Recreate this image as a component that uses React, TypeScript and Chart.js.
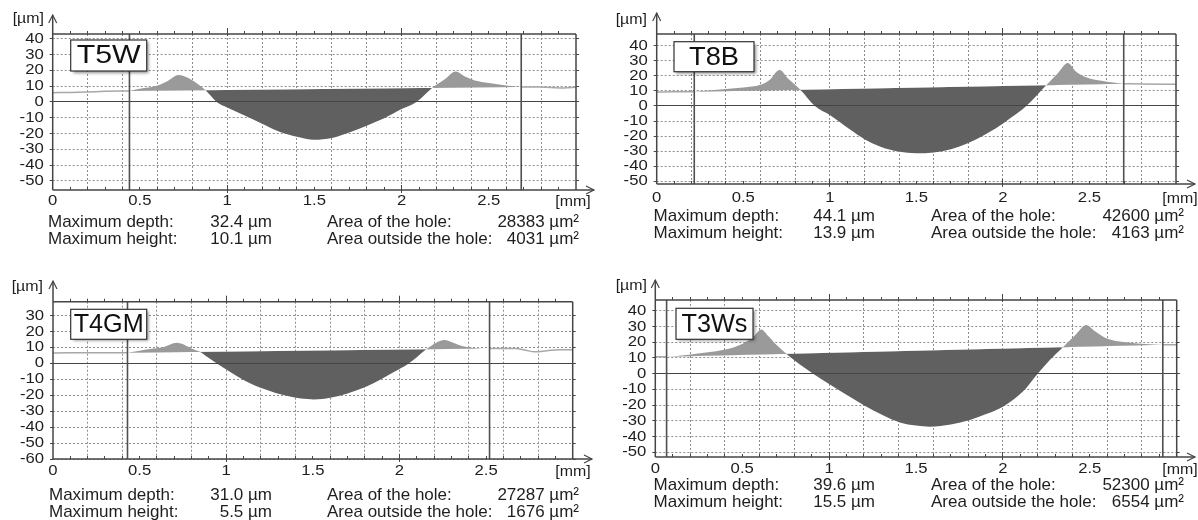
import React, { useEffect, useRef } from "react";
import { Chart, registerables } from "chart.js";

Chart.register(...registerables);

// ---------------- data ----------------
const NAMES = ["T5W", "T8B", "T4GM", "T3Ws"];

// T5W profile (x in mm, y in µm)
const T5W_X = [0, 0.1, 0.2, 0.3, 0.44, 0.5, 0.6, 0.66, 0.72, 0.78, 0.83, 0.875, 0.94, 1.0, 1.1, 1.2, 1.3, 1.4, 1.5, 1.6, 1.7, 1.8, 1.9, 2.0, 2.085, 2.175, 2.25, 2.31, 2.36, 2.42, 2.5, 2.6, 2.686, 2.8, 2.93, 3.0];
const T5W_Y = [5.9, 6.0, 6.3, 6.7, 7.0, 8.3, 10.4, 13.3, 17.0, 15.0, 11.5, 7.5, 0, -3.5, -8.6, -13.8, -18.8, -22.0, -23.9, -22.8, -19.3, -15.0, -10.3, -4.5, 0, 8.9, 14.5, 19.2, 16.3, 13.6, 12.0, 10.4, 9.5, 9.4, 8.9, 9.3];
const T5W_MARKERS = [0.44, 2.686];
const T5W_REF = [7.0, 9.5];

// T8B profile
const T8B_X = [0, 0.1, 0.217, 0.3, 0.4, 0.5, 0.6, 0.65, 0.71, 0.76, 0.83, 0.914, 1.0, 1.115, 1.2, 1.289, 1.4, 1.5, 1.6, 1.7, 1.79, 1.88, 1.96, 2.05, 2.135, 2.25, 2.32, 2.375, 2.42, 2.48, 2.6, 2.698, 2.8, 3.0];
const T8B_Y = [9.3, 9.4, 9.5, 10.3, 11.2, 12.2, 14.0, 17.0, 23.9, 18.0, 10.8, 0, -6.0, -15.5, -22.0, -26.8, -30.2, -31.3, -30.8, -28.6, -25.0, -20.0, -14.8, -7.5, 0, 13.8, 22.0, 28.4, 23.0, 19.0, 16.1, 14.8, 14.6, 14.4];
const T8B_MARKERS = [0.217, 2.698];
const T8B_REF = [9.5, 14.8];

// T4GM profile
const T4GM_X = [0, 0.1, 0.2, 0.3, 0.43, 0.5, 0.56, 0.64, 0.714, 0.76, 0.8, 0.85, 0.9, 0.946, 1.0, 1.14, 1.24, 1.33, 1.43, 1.507, 1.6, 1.7, 1.8, 1.894, 1.97, 2.049, 2.1, 2.155, 2.21, 2.258, 2.31, 2.36, 2.42, 2.474, 2.52, 2.6, 2.67, 2.73, 2.78, 2.85, 2.92, 3.0];
const T4GM_Y = [6.5, 6.6, 6.7, 6.7, 6.6, 8.0, 9.0, 10.3, 12.9, 11.6, 9.4, 7.1, 3.3, 0, -3.8, -12.6, -16.8, -19.9, -22.1, -22.6, -21.6, -18.9, -15.0, -10.0, -5.3, -0.4, 3.9, 8.8, 12.8, 14.6, 13.0, 10.9, 9.8, 9.4, 9.3, 9.4, 9.4, 8.2, 7.3, 7.9, 8.6, 8.6];
const T4GM_MARKERS = [0.43, 2.52];
const T4GM_REF = [6.6, 9.3];

// T3Ws profile
const T3WS_X = [0, 0.065, 0.15, 0.257, 0.35, 0.41, 0.506, 0.56, 0.61, 0.65, 0.698, 0.755, 0.83, 0.908, 1.0, 1.119, 1.2, 1.31, 1.406, 1.5, 1.58, 1.7, 1.81, 1.9, 2.0, 2.115, 2.2, 2.27, 2.345, 2.42, 2.48, 2.53, 2.594, 2.66, 2.73, 2.82, 2.92, 3.0];
const T3WS_Y = [10.8, 10.8, 11.6, 13.0, 14.3, 15.5, 19.3, 23.0, 28.2, 24.0, 18.2, 12.6, 6.0, 0, -6.5, -14.6, -20.0, -26.5, -31.0, -33.0, -33.7, -32.3, -29.4, -25.8, -21.0, -11.4, 0, 8.8, 16.9, 25.0, 31.0, 27.0, 22.5, 20.6, 19.7, 18.9, 18.4, 18.5];
const T3WS_MARKERS = [0.065, 2.92];
const T3WS_REF = [10.8, 18.4];

const X_TICK_VALUES = [0, 0.5, 1, 1.5, 2, 2.5];
const X_TICK_LABELS = ["0", "0.5", "1", "1.5", "2", "2.5"];
const X_GRID = [0.2, 0.4, 0.6, 0.8, 1.0, 1.2, 1.4, 1.6, 1.8, 2.0, 2.2, 2.4, 2.6, 2.8];
const X_MINOR = [0.1, 0.2, 0.3, 0.4, 0.5, 0.6, 0.7, 0.8, 0.9, 1.1, 1.2, 1.3, 1.4, 1.5, 1.6, 1.7, 1.8, 1.9, 2.1, 2.2, 2.3, 2.4, 2.5, 2.6, 2.7, 2.8, 2.9];
const X_MAJOR = [1, 2];
const Y_TICKS_A = [40, 30, 20, 10, 0, -10, -20, -30, -40, -50];
const Y_TICKS_B = [30, 20, 10, 0, -10, -20, -30, -40, -50, -60];
const X_UNIT = "[mm]";
const Y_UNIT = "[µm]";

const STAT_LABELS = ["Maximum depth:", "Maximum height:", "Area of the hole:", "Area outside the hole:"];
const DEPTHS = ["32.4", "44.1", "31.0", "39.6"];
const HEIGHTS = ["10.1", "13.9", "5.5", "15.5"];
const HOLE_AREAS = ["28383", "42600", "27287", "52300"];
const OUTSIDE_AREAS = ["4031", "4163", "1676", "6554"];

const PANELS = [
  { name: NAMES[0], xs: T5W_X, ys: T5W_Y, markers: T5W_MARKERS, ref: T5W_REF, yTicks: Y_TICKS_A },
  { name: NAMES[1], xs: T8B_X, ys: T8B_Y, markers: T8B_MARKERS, ref: T8B_REF, yTicks: Y_TICKS_A },
  { name: NAMES[2], xs: T4GM_X, ys: T4GM_Y, markers: T4GM_MARKERS, ref: T4GM_REF, yTicks: Y_TICKS_B },
  { name: NAMES[3], xs: T3WS_X, ys: T3WS_Y, markers: T3WS_MARKERS, ref: T3WS_REF, yTicks: Y_TICKS_A },
];

// ---------------- layout (page coordinates) ----------------
const W = 1198;
const H = 520;
const LAYOUT = [
  { L: 0, T: 0, w: 599, h: 260, x0: 52.7, x3: 576, yTop: 34, yBot: 190, yMin: -55.7, yMax: 43, arrowY: 15, xArrow: 594, umRight: 44, umY: 19, mmX: 573, labelDy: 11,
    box: { x: 70.7, y: 40, w: 76, h: 31, tw: 64 }, st: { c1: 48, c2: 272, c3: 327, c4: 579, y1: 222, y2: 239 } },
  { L: 599, T: 0, w: 599, h: 260, x0: 656.7, x3: 1176, yTop: 34, yBot: 184, yMin: -51.7, yMax: 47.7, arrowY: 13, xArrow: 1195, umRight: 647, umY: 20, mmX: 1180, labelDy: 14,
    box: { x: 674, y: 41.7, w: 80, h: 30, tw: 50 }, st: { c1: 653.6, c2: 875, c3: 931, c4: 1184, y1: 216, y2: 233 } },
  { L: 0, T: 260, w: 599, h: 260, x0: 53, x3: 572.7, yTop: 301.7, yBot: 459, yMin: -60, yMax: 38.7, arrowY: 281, xArrow: 592, umRight: 43, umY: 287, mmX: 573, labelDy: 12,
    box: { x: 70.7, y: 309.3, w: 76, h: 30, tw: 70 }, st: { c1: 49, c2: 272, c3: 327, c4: 579, y1: 495, y2: 512 } },
  { L: 599, T: 260, w: 599, h: 260, x0: 655.3, x3: 1176.7, yTop: 300, yBot: 457, yMin: -53, yMax: 46.9, arrowY: 280, xArrow: 1195, umRight: 647, umY: 286, mmX: 1180, labelDy: 12,
    box: { x: 676, y: 308.3, w: 77, h: 31, tw: 66 }, st: { c1: 653.6, c2: 875, c3: 931, c4: 1184, y1: 485, y2: 502 } },
];

const FONT = '"Liberation Sans", Arial, Helvetica, sans-serif';
const AXIS = "#454545";
const TEXT = "#1e1e1e";
const GRID = "#8e8e8e";

const snap = (v: number) => Math.round(v - 0.5) + 0.5;

function sText(ctx: CanvasRenderingContext2D, s: string, x: number, y: number, align: CanvasTextAlign, sx: number) {
  ctx.save();
  ctx.translate(x, y);
  ctx.scale(sx, 1);
  ctx.textAlign = align;
  ctx.textBaseline = "middle";
  ctx.fillText(s, 0, 0);
  ctx.restore();
}

function makeDecor(p: any, lay: any) {
  return {
    id: "decor",
    beforeDatasetsDraw(chart: any) {
      const { ctx, chartArea: a, scales } = chart;
      const xs = scales.x;
      const ys = scales.y;
      ctx.save();
      ctx.strokeStyle = GRID;
      ctx.lineWidth = 1;
      ctx.setLineDash([2, 2]);
      ctx.beginPath();
      for (const v of X_GRID) {
        const X = snap(xs.getPixelForValue(v));
        ctx.moveTo(X, a.top);
        ctx.lineTo(X, a.bottom);
      }
      for (const v of p.yTicks) {
        if (v === 0) continue;
        const Y = snap(ys.getPixelForValue(v));
        ctx.moveTo(a.left, Y);
        ctx.lineTo(a.right, Y);
      }
      ctx.stroke();
      ctx.restore();
    },
    afterDatasetsDraw(chart: any) {
      const { ctx, chartArea: a, scales } = chart;
      const xs = scales.x;
      const ys = scales.y;
      const L = lay.L;
      const T = lay.T;
      ctx.save();
      ctx.setLineDash([]);
      ctx.strokeStyle = AXIS;

      // zero line
      ctx.lineWidth = 1.2;
      const y0 = snap(ys.getPixelForValue(0));
      ctx.beginPath();
      ctx.moveTo(a.left, y0);
      ctx.lineTo(a.right + 3, y0);
      ctx.stroke();

      // marker lines
      ctx.lineWidth = 1.6;
      ctx.strokeStyle = "#505050";
      ctx.beginPath();
      for (const m of p.markers) {
        const X = xs.getPixelForValue(m);
        ctx.moveTo(X, a.top);
        ctx.lineTo(X, a.bottom);
      }
      ctx.stroke();

      // borders and axes
      ctx.strokeStyle = AXIS;
      ctx.lineWidth = 1.5;
      ctx.beginPath();
      ctx.moveTo(a.left, a.top);
      ctx.lineTo(a.right, a.top);
      ctx.moveTo(a.right, a.top);
      ctx.lineTo(a.right, a.bottom);
      ctx.moveTo(a.left, a.bottom);
      ctx.lineTo(a.left, lay.arrowY - T);
      ctx.moveTo(a.left, a.bottom);
      ctx.lineTo(lay.xArrow - L, a.bottom);
      ctx.stroke();

      // arrow heads
      ctx.lineWidth = 1.2;
      ctx.beginPath();
      const ty = lay.arrowY - T;
      ctx.moveTo(a.left - 4, ty + 8);
      ctx.lineTo(a.left, ty);
      ctx.lineTo(a.left + 4, ty + 8);
      const tx = lay.xArrow - L;
      ctx.moveTo(tx - 8, a.bottom - 4);
      ctx.lineTo(tx, a.bottom);
      ctx.lineTo(tx - 8, a.bottom + 4);
      ctx.stroke();

      // minor ticks
      ctx.lineWidth = 1;
      ctx.beginPath();
      for (const v of X_MINOR) {
        const X = snap(xs.getPixelForValue(v));
        ctx.moveTo(X, a.top);
        ctx.lineTo(X, a.top - 3);
        ctx.moveTo(X, a.bottom);
        ctx.lineTo(X, a.bottom - 3);
      }
      for (const v of X_MAJOR) {
        const X = snap(xs.getPixelForValue(v));
        ctx.moveTo(X, a.top + 2);
        ctx.lineTo(X, a.top - 6);
        ctx.moveTo(X, a.bottom + 3);
        ctx.lineTo(X, a.bottom - 5);
      }
      for (const v of p.yTicks) {
        const Y = snap(ys.getPixelForValue(v));
        ctx.moveTo(a.left - 3, Y);
        ctx.lineTo(a.left, Y);
        ctx.moveTo(a.right, Y);
        ctx.lineTo(a.right + 3, Y);
      }
      ctx.stroke();

      // tick labels
      ctx.fillStyle = TEXT;
      ctx.font = "14.5px " + FONT;
      for (const v of p.yTicks) {
        sText(ctx, String(v), a.left - 9, ys.getPixelForValue(v), "right", 1.15);
      }
      X_TICK_VALUES.forEach((v, i) => {
        sText(ctx, X_TICK_LABELS[i], xs.getPixelForValue(v), a.bottom + lay.labelDy, "center", 1.15);
      });
      sText(ctx, X_UNIT, lay.mmX - L, a.bottom + lay.labelDy + 1, "center", 1.1);
      sText(ctx, Y_UNIT, lay.umRight - L, lay.umY - T, "right", 1.1);

      // name box
      const b = lay.box;
      const bx = b.x - L;
      const by = b.y - T;
      ctx.save();
      ctx.shadowColor = "rgba(0,0,0,0.45)";
      ctx.shadowBlur = 3;
      ctx.shadowOffsetX = 2;
      ctx.shadowOffsetY = 2;
      ctx.fillStyle = "#ffffff";
      ctx.fillRect(bx, by, b.w, b.h);
      ctx.restore();
      ctx.strokeStyle = "#333";
      ctx.lineWidth = 1.2;
      ctx.strokeRect(bx, by, b.w, b.h);
      ctx.fillStyle = "#111";
      ctx.font = "25px " + FONT;
      const mw = ctx.measureText(p.name).width;
      sText(ctx, p.name, bx + b.w / 2, by + b.h / 2 + 1, "center", b.tw / mw);
      ctx.restore();
    },
  };
}

function Panel({ idx }: { idx: number }) {
  const ref = useRef<HTMLCanvasElement | null>(null);
  const p = PANELS[idx];
  const lay = LAYOUT[idx];
  useEffect(() => {
    if (!ref.current) return;
    const pts = p.xs.map((x: number, i: number) => ({ x, y: p.ys[i] }));
    const [mL, mR] = p.markers;
    const inner = pts.filter((q) => q.x >= mL && q.x <= mR);
    const left = pts.filter((q) => q.x <= mL);
    const right = pts.filter((q) => q.x >= mR);
    const refPts = [
      { x: mL, y: p.ref[0] },
      { x: mR, y: p.ref[1] },
    ];
    const lineStyle = { borderColor: "#a8a8a8", borderWidth: 1.5, pointRadius: 0, cubicInterpolationMode: "monotone", fill: false };
    const chart = new Chart(ref.current, {
      type: "line",
      data: {
        datasets: [
          { data: refPts, borderColor: "rgba(0,0,0,0)", borderWidth: 0, pointRadius: 0, fill: false },
          {
            data: inner,
            borderColor: "rgba(0,0,0,0)",
            borderWidth: 0,
            pointRadius: 0,
            cubicInterpolationMode: "monotone",
            fill: { target: 0, above: "#9a9a9a", below: "#606060" },
          },
          { data: left, ...lineStyle },
          { data: right, ...lineStyle },
        ],
      } as any,
      options: {
        animation: false,
        responsive: false,
        maintainAspectRatio: false,
        events: [],
        layout: {
          padding: {
            left: lay.x0 - lay.L,
            right: lay.L + lay.w - lay.x3,
            top: lay.yTop - lay.T,
            bottom: lay.T + lay.h - lay.yBot,
          },
        },
        scales: {
          x: { type: "linear", min: 0, max: 3, display: false },
          y: { type: "linear", min: lay.yMin, max: lay.yMax, display: false },
        },
        plugins: { legend: { display: false }, tooltip: { enabled: false } },
      } as any,
      plugins: [makeDecor(p, lay)],
    });
    return () => chart.destroy();
  }, [idx]);
  return (
    <canvas
      ref={ref}
      width={lay.w}
      height={lay.h}
      style={{ position: "absolute", left: lay.L, top: lay.T, width: lay.w, height: lay.h }}
    />
  );
}

const txt: React.CSSProperties = {
  position: "absolute",
  fontSize: 17,
  lineHeight: "20px",
  whiteSpace: "nowrap",
  color: TEXT,
  fontFamily: FONT,
};

export default function App() {
  return (
    <div style={{ position: "absolute", left: 0, top: 0, width: W, height: H, background: "#fff", overflow: "hidden" }}>
      {PANELS.map((_, i) => (
        <Panel key={i} idx={i} />
      ))}
      {PANELS.map((_, i) => {
        const s = LAYOUT[i].st;
        const rows: [string, string, string, string, number][] = [
          [STAT_LABELS[0], DEPTHS[i] + " µm", STAT_LABELS[2], HOLE_AREAS[i] + " µm²", s.y1],
          [STAT_LABELS[1], HEIGHTS[i] + " µm", STAT_LABELS[3], OUTSIDE_AREAS[i] + " µm²", s.y2],
        ];
        return rows.map((r, j) => (
          <React.Fragment key={i + "-" + j}>
            <div style={{ ...txt, left: s.c1, top: r[4] - 10 }}>{r[0]}</div>
            <div style={{ ...txt, right: W - s.c2, top: r[4] - 10 }}>{r[1]}</div>
            <div style={{ ...txt, left: s.c3, top: r[4] - 10 }}>{r[2]}</div>
            <div style={{ ...txt, right: W - s.c4, top: r[4] - 10 }}>{r[3]}</div>
          </React.Fragment>
        ));
      })}
    </div>
  );
}
